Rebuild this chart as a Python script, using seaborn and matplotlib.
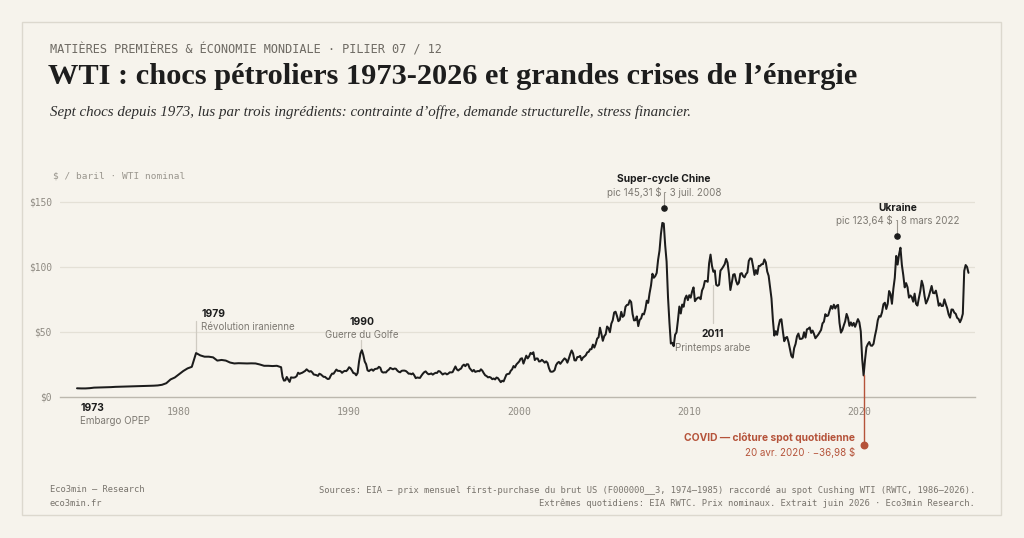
import numpy as np
import pandas as pd
import matplotlib
matplotlib.use("Agg")
import matplotlib.pyplot as plt
import seaborn as sns
from matplotlib.patches import Rectangle

# ---------------- data ----------------
# 1974-1985: quarterly US first-purchase price ($/bbl)
early_start_year = 1974
wti_quarterly_1974_1985 = [
    6.7, 6.6, 6.6, 6.8,
    7.2, 7.3, 7.4, 7.5,
    7.6, 7.8, 7.9, 8.0,
    8.1, 8.2, 8.3, 8.4,
    8.5, 8.6, 8.7, 8.9,
    9.4, 10.6, 13.5, 15.0,
    17.5, 20.0, 22.0, 23.2,
    33.8, 32.0, 31.0, 31.0,
    30.5, 28.0, 28.5, 28.0,
    26.5, 25.8, 26.0, 25.9,
    25.8, 25.9, 25.8, 25.0,
    24.0, 24.0, 23.8, 24.0,
]
# 1986-2026: monthly Cushing WTI spot averages ($/bbl)
monthly_start_year = 1986
wti_monthly_1986_1999 = [
    22.9, 15.5, 12.6, 12.8, 15.4, 13.4, 11.6, 15.1, 14.9, 14.9, 15.2, 16.1,
    18.7, 17.8, 18.3, 18.7, 19.4, 20.1, 21.3, 20.3, 19.5, 19.9, 18.9, 17.3,
    17.1, 16.8, 16.2, 17.9, 17.4, 16.5, 15.5, 15.5, 14.5, 13.8, 14.1, 16.4,
    18.0, 17.9, 19.5, 21.1, 20.1, 20.1, 19.8, 18.6, 19.6, 20.1, 19.9, 21.1,
    22.9, 22.1, 20.4, 18.4, 18.2, 16.7, 18.5, 27.3, 33.5, 36.0, 32.3, 27.3,
    25.2, 20.5, 19.9, 20.8, 21.2, 20.2, 21.4, 21.7, 21.9, 23.2, 22.5, 19.5,
    18.8, 19.0, 18.9, 20.2, 21.0, 22.4, 21.8, 21.3, 21.9, 21.7, 20.3, 19.4,
    19.0, 20.1, 20.3, 20.3, 20.0, 19.1, 17.9, 18.0, 17.5, 18.2, 16.6, 14.5,
    15.0, 14.8, 14.7, 16.4, 17.9, 19.1, 19.7, 18.4, 17.5, 17.7, 18.1, 17.2,
    18.0, 18.6, 18.5, 19.9, 19.7, 18.5, 17.3, 18.0, 18.2, 17.4, 18.0, 19.0,
    18.9, 19.1, 21.3, 23.5, 21.2, 20.4, 21.3, 21.9, 24.0, 24.9, 23.7, 25.2,
    25.1, 22.2, 21.0, 19.7, 20.8, 19.3, 19.7, 20.0, 19.8, 21.3, 20.2, 18.3,
    16.7, 16.1, 15.1, 15.4, 14.9, 13.7, 14.2, 13.5, 15.0, 14.5, 13.0, 11.4,
    12.5, 12.0, 14.7, 17.3, 17.7, 17.9, 20.1, 21.3, 23.8, 22.7, 25.0, 26.1,
]
wti_monthly_2000_2009 = [
    27.3, 29.4, 29.8, 25.7, 28.8, 31.8, 29.7, 31.3, 33.9, 33.1, 34.4, 28.4,
    29.6, 29.6, 27.3, 27.5, 28.6, 27.6, 26.4, 27.4, 26.2, 22.2, 19.6, 19.4,
    19.7, 20.7, 24.5, 26.2, 27.0, 25.5, 27.0, 28.4, 29.7, 28.8, 26.4, 29.5,
    33.0, 35.8, 33.5, 28.2, 28.1, 30.7, 30.8, 31.6, 28.3, 30.3, 31.1, 32.1,
    34.3, 34.7, 36.7, 36.8, 40.3, 38.0, 40.8, 44.9, 45.9, 53.3, 48.5, 43.2,
    46.8, 48.2, 54.2, 53.0, 49.8, 56.4, 59.0, 65.0, 65.6, 62.3, 58.3, 59.4,
    65.5, 61.6, 62.7, 69.4, 70.8, 71.0, 74.4, 73.0, 63.8, 58.9, 59.1, 62.0,
    54.5, 59.3, 60.4, 64.0, 63.5, 67.5, 74.1, 72.4, 79.9, 85.8, 94.8, 91.7,
    93.0, 95.4, 105.5, 112.6, 125.4, 133.9, 133.4, 116.7, 104.1, 76.6, 57.3, 41.1,
    41.7, 39.1, 47.9, 49.7, 59.0, 69.6, 64.2, 71.1, 69.4, 75.7, 78.0, 74.5,
]
wti_monthly_2010_2019 = [
    78.3, 76.4, 81.2, 84.3, 73.7, 75.3, 76.3, 76.6, 75.2, 81.9, 84.3, 89.2,
    89.2, 88.6, 102.9, 109.5, 100.9, 96.3, 97.3, 86.3, 85.5, 86.3, 97.2, 98.6,
    100.3, 102.2, 106.2, 103.3, 94.7, 82.3, 87.9, 94.1, 94.5, 89.5, 86.5, 87.9,
    94.8, 95.3, 92.9, 92.0, 94.5, 95.8, 104.7, 106.6, 106.3, 100.5, 93.9, 97.6,
    94.6, 100.8, 100.8, 102.1, 102.2, 105.8, 103.6, 96.5, 93.2, 84.4, 75.8, 59.3,
    47.2, 50.6, 47.8, 54.5, 59.3, 59.8, 50.9, 42.9, 45.5, 46.2, 42.4, 37.2,
    31.7, 30.3, 37.6, 40.8, 46.7, 48.8, 44.7, 44.7, 45.2, 49.8, 45.7, 52.0,
    52.5, 53.5, 49.3, 51.1, 48.5, 45.2, 46.6, 48.0, 49.8, 51.6, 56.6, 57.9,
    63.7, 62.2, 62.7, 66.3, 70.0, 67.9, 71.0, 68.1, 70.2, 70.8, 57.0, 49.5,
    51.4, 55.0, 58.2, 63.9, 60.8, 54.7, 57.4, 54.8, 57.0, 54.0, 57.0, 59.9,
]
wti_monthly_2020_2026 = [
    57.5, 50.5, 29.2, 16.6, 28.6, 38.3, 40.7, 42.3, 39.6, 39.4, 40.9, 47.0,
    52.0, 59.0, 62.3, 61.7, 65.2, 71.4, 72.5, 67.7, 71.7, 81.5, 79.2, 71.7,
    83.2, 91.6, 108.5, 101.8, 109.6, 114.8, 101.6, 93.7, 84.3, 87.6, 84.4, 76.4,
    78.1, 76.8, 73.3, 79.5, 71.6, 70.3, 76.1, 81.4, 89.4, 85.6, 77.7, 71.9,
    74.2, 77.3, 81.3, 85.4, 80.0, 79.8, 81.8, 76.7, 70.2, 72.0, 70.0, 70.1,
    75.1, 71.5, 68.2, 63.5, 61.0, 67.3, 67.2, 64.9, 64.0, 60.9, 60.0, 57.5,
    60.0, 64.0, 97.0, 101.5, 100.0, 95.5,
]

y_ticks = [0, 50, 100, 150]
y_tick_labels = ["$0", "$50", "$100", "$150"]
x_ticks = [1980, 1990, 2000, 2010, 2020]

# events: (label, sublabel)
ev_1973 = ("1973", "Embargo OPEP")
ev_1979 = ("1979", "Révolution iranienne")
ev_1990 = ("1990", "Guerre du Golfe")
ev_2011 = ("2011", "Printemps arabe")
peak_2008_value = 145.31
peak_2008_date = 2008.5
peak_2022_value = 123.64
peak_2022_date = 2022.18
covid_value = -36.98
covid_date = 2020.30

# ---------------- build series ----------------
q = np.array(wti_quarterly_1974_1985)
t_q = early_start_year + np.arange(len(q)) / 4.0
m = np.array(wti_monthly_1986_1999 + wti_monthly_2000_2009 +
             wti_monthly_2010_2019 + wti_monthly_2020_2026)
t_m = monthly_start_year + np.arange(len(m)) / 12.0
df = pd.DataFrame({"t": np.concatenate([t_q, t_m]),
                   "wti": np.concatenate([q, m])})

# ---------------- style ----------------
BG = "#f6f3ec"
INK = "#1c1c1c"
GRAY = "#8f8b83"
GRID = "#e4e0d6"
RED = "#b5533a"

sns.set_theme(style="white")
plt.rcParams["font.family"] = ["Inter", "DejaVu Sans"]
MONO = "DejaVu Sans Mono"
SERIF = "Liberation Serif"

W, H = 1024, 538
fig = plt.figure(figsize=(W / 100, H / 100), dpi=100, facecolor=BG)

def fx(px):
    return px / W

def fy(py):
    return 1 - py / H

ax = fig.add_axes([fx(60), fy(397), fx(975) - fx(60), fy(190) - fy(397)])
ax.set_facecolor(BG)

sns.lineplot(data=df, x="t", y="wti", ax=ax, color=INK, lw=1.45,
             estimator=None, sort=False)

ax.set_xlim(1973.0, 2026.8)
ax.set_ylim(0, 159.2)
ax.set_xlabel("")
ax.set_ylabel("")
for s in ["top", "right", "left"]:
    ax.spines[s].set_visible(False)
ax.spines["bottom"].set_color("#bcb8ae")
ax.spines["bottom"].set_linewidth(1.0)
ax.set_yticks(y_ticks)
ax.set_yticklabels(y_tick_labels, fontfamily=MONO, fontsize=6.9, color=GRAY)
ax.tick_params(axis="y", length=0, pad=6)
ax.set_xticks(x_ticks)
ax.set_xticklabels([str(x) for x in x_ticks], fontfamily=MONO, fontsize=7.1,
                   color=GRAY)
ax.tick_params(axis="x", length=3, width=0.8, color="#bcb8ae", pad=4)
for yv in y_ticks[1:]:
    ax.axhline(yv, color=GRID, lw=0.9, zorder=0)

# ---------------- annotations ----------------
BOLD_SZ = 7.4
SUB_SZ = 7.0
SUBC = "#7d7972"
LINEC = "#cfcbc2"

def ev_text(x, yb, ys, lab, sub, ha="left", color_b=INK, color_s=SUBC):
    ax.text(x, yb, lab, ha=ha, va="center", fontsize=BOLD_SZ,
            fontweight="bold", color=color_b, clip_on=False)
    ax.text(x, ys, sub, ha=ha, va="center", fontsize=SUB_SZ,
            color=color_s, clip_on=False)

# 1973
ev_text(1974.18, -8.5, -18.5, *ev_1973)
# 1979 (points at the early-1981 peak)
ax.plot([1981.0, 1981.0], [34.0, 58.5], color=LINEC, lw=0.9, zorder=1)
ev_text(1981.3, 63.8, 53.8, *ev_1979)
# 1990
ax.plot([1990.7, 1990.7], [37.0, 43.8], color=LINEC, lw=0.9, zorder=1)
ev_text(1990.75, 57.7, 47.7, *ev_1990, ha="center")
# 2011
ax.plot([2011.4, 2011.4], [56.9, 86.2], color=LINEC, lw=0.9, zorder=1)
ev_text(2011.4, 48.5, 37.7, *ev_2011, ha="center")
# 2008 peak
ax.plot([peak_2008_date, peak_2008_date], [peak_2008_value, 157.5],
        color="#9b978f", lw=0.8, clip_on=False)
ax.scatter([peak_2008_date], [peak_2008_value], s=14, color=INK,
           zorder=5, clip_on=False)
ev_text(peak_2008_date, 167.7, 156.9, "Super-cycle Chine",
        "pic 145,31 $ · 3 juil. 2008", ha="center")
# 2022 peak
ax.plot([peak_2022_date + 0.06] * 2, [peak_2022_value, 136.0],
        color="#9b978f", lw=0.8, clip_on=False)
ax.scatter([peak_2022_date + 0.06], [peak_2022_value], s=14, color=INK,
           zorder=5, clip_on=False)
ev_text(peak_2022_date + 0.06, 145.4, 135.4, "Ukraine",
        "pic 123,64 $ · 8 mars 2022", ha="center")
# COVID
ax.plot([covid_date, covid_date], [17.0, covid_value], color=RED, lw=1.0,
        clip_on=False, zorder=4)
ax.scatter([covid_date], [covid_value], s=22, color=RED, zorder=5,
           clip_on=False)
ev_text(2019.76, -31.5, -42.3, "COVID — clôture spot quotidienne",
        "20 avr. 2020 · −36,98 $", ha="right", color_b=RED, color_s=RED)

# ---------------- header / footer ----------------
fig.text(fx(50), fy(50), "MATIÈRES PREMIÈRES & ÉCONOMIE MONDIALE · PILIER 07 / 12",
         fontfamily=MONO, fontsize=8.6, color="#6e6a63", va="center")
fig.text(fx(48), fy(77), "WTI : chocs pétroliers 1973-2026 et grandes crises de l’énergie",
         fontfamily=SERIF, fontsize=21.9, fontweight="bold", color="#1d1d1d",
         va="center")
fig.text(fx(50), fy(112),
         "Sept chocs depuis 1973, lus par trois ingrédients: contrainte d’offre, demande structurelle, stress financier.",
         fontfamily=SERIF, fontsize=10.85, style="italic", color="#2e2e2e",
         va="center")
fig.text(fx(53), fy(176), "$ / baril · WTI nominal", fontfamily=MONO,
         fontsize=6.8, color="#9a968e", va="center")

FOOT = "#77736c"
fig.text(fx(50), fy(490), "Eco3min — Research", fontfamily=MONO, fontsize=6.3,
         color=FOOT, va="center")
fig.text(fx(50), fy(503), "eco3min.fr", fontfamily=MONO, fontsize=6.3,
         color=FOOT, va="center")
fig.text(fx(975), fy(490),
         "Sources: EIA — prix mensuel first-purchase du brut US (F000000__3, 1974–1985) raccordé au spot Cushing WTI (RWTC, 1986–2026).",
         fontfamily=MONO, fontsize=6.3, color=FOOT, va="center", ha="right")
fig.text(fx(975), fy(503),
         "Extrêmes quotidiens: EIA RWTC. Prix nominaux. Extrait juin 2026 · Eco3min Research.",
         fontfamily=MONO, fontsize=6.3, color=FOOT, va="center", ha="right")

# card border
fig.patches.append(Rectangle((fx(22), fy(515)), fx(1001) - fx(22), fy(22) - fy(515),
                             transform=fig.transFigure, fill=False,
                             edgecolor="#dcd8ce", lw=1.0))

fig.savefig("out.png", dpi=100, facecolor=BG)
